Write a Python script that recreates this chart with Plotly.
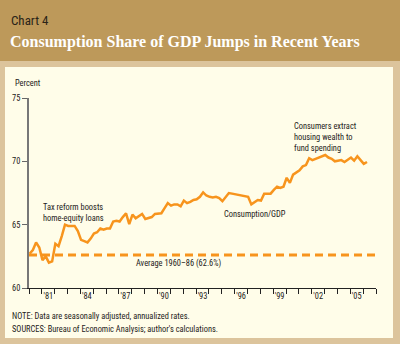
import plotly.graph_objects as go

# Quarterly consumption share of GDP, percent (1980Q1 - 2006Q2)
years = list(range(1980, 2007))
share = [
    62.7, 63.0, 63.6, 63.2,      # 1980
    62.2, 62.5, 62.0, 62.1,      # 1981
    63.5, 63.3, 64.1, 65.0,      # 1982
    64.9, 64.9, 64.9, 64.5,      # 1983
    63.8, 63.7, 63.6, 63.9,      # 1984
    64.3, 64.4, 64.7, 64.6,      # 1985
    64.7, 64.7, 65.25, 65.3,     # 1986
    65.25, 65.6, 65.9, 65.05,    # 1987
    65.8, 65.5, 65.7, 65.85,     # 1988
    65.45, 65.5, 65.6, 65.85,    # 1989
    65.85, 65.9, 66.3, 66.7,     # 1990
    66.5, 66.6, 66.6, 66.45,     # 1991
    66.9, 66.7, 66.8, 66.95,     # 1992
    67.0, 67.2, 67.55, 67.3,     # 1993
    67.2, 67.15, 67.2, 67.1,     # 1994
    66.85, 67.2, 67.5, 67.45,    # 1995
    67.4, 67.35, 67.3, 67.25,    # 1996
    67.2, 66.6, 66.8, 66.95,     # 1997
    66.9, 67.45, 67.45, 67.45,   # 1998
    67.75, 68.0, 67.9, 68.0,     # 1999
    68.7, 68.3, 68.95, 69.1,     # 2000
    69.3, 69.6, 69.7, 70.25,     # 2001
    70.1, 70.2, 70.3, 70.4,      # 2002
    70.5, 70.3, 70.2, 70.0,      # 2003
    70.05, 70.1, 69.95, 70.1,    # 2004
    70.3, 70.05, 70.4, 70.1,     # 2005
    69.8, 69.95,                 # 2006
]
quarter_x = [1980 + 0.05 + i / 4 for i in range(len(share))]

average_1960_86 = 62.6

tick_years = [1981, 1984, 1987, 1990, 1993, 1996, 1999, 2002, 2005]
tick_labels = ["'81", "'84", "'87", "'90", "'93", "'96", "'99", "'02", "'05"]
y_ticks = [60, 65, 70, 75]

ORANGE = "#F7941D"
HEADER = "#BD995A"
BORDER = "#DCC49C"
CREAM = "#FFFDE9"
TEXT = "#1E1B1A"
FONT = "Liberation Sans Narrow, Arial Narrow, Roboto Condensed, Liberation Sans, sans-serif"
FS = 8.4

W, H = 400, 344
ML, MR, MT, MB = 29, 24, 98, 56
PW, PH = W - ML - MR, H - MT - MB

fig = go.Figure()

fig.add_trace(go.Scatter(
    x=[years[0], years[-1] + 1], y=[average_1960_86, average_1960_86],
    mode="lines", line=dict(color=ORANGE, width=3, dash="8px,5px"),
    hoverinfo="skip", showlegend=False,
))
fig.add_trace(go.Scatter(
    x=quarter_x, y=share, mode="lines",
    line=dict(color=ORANGE, width=2.5), showlegend=False,
))

# helpers: figure pixels -> paper coordinates (paper spans the plot area)
def px_x(p):
    return (p - ML) / PW

def px_y(p):
    return (H - MB - p) / PH

shapes = [
    # tan page behind everything
    dict(type="rect", xref="paper", yref="paper", x0=px_x(0), x1=px_x(W),
         y0=px_y(H), y1=px_y(0), fillcolor=BORDER, line_width=0, layer="below"),
    # header band
    dict(type="rect", xref="paper", yref="paper", x0=px_x(0), x1=px_x(W),
         y0=px_y(61), y1=px_y(0), fillcolor=HEADER, line_width=0, layer="below"),
    # cream inner panel
    dict(type="rect", xref="paper", yref="paper", x0=px_x(5), x1=px_x(393),
         y0=px_y(338), y1=px_y(67), fillcolor=CREAM, line_width=0, layer="below"),
]

fig.update_layout(
    width=W, height=H,
    margin=dict(l=ML, r=MR, t=MT, b=MB, autoexpand=False),
    paper_bgcolor=BORDER, plot_bgcolor="rgba(0,0,0,0)",
    shapes=shapes,
    font=dict(family=FONT, size=FS, color=TEXT),
    xaxis=dict(
        range=[1980, 2007], showgrid=False, zeroline=False,
        tickmode="array", tickvals=[y + 0.5 for y in tick_years], ticktext=tick_labels,
        ticks="", ticklen=0, showline=True, linecolor="#222", linewidth=1,
        minor=dict(tickmode="linear", tick0=1980, dtick=1, ticks="outside",
                   ticklen=5, tickcolor="#222", tickwidth=1),
        tickfont=dict(size=FS, family=FONT, color=TEXT),
    ),
    yaxis=dict(
        range=[60, 75], showgrid=False, zeroline=False,
        tickmode="array", tickvals=y_ticks,
        ticks="outside", ticklen=5, tickcolor="#666", tickwidth=1,
        showline=True, linecolor="#777", linewidth=2,
        tickfont=dict(size=FS, family=FONT, color=TEXT),
    ),
)

def note(text, x, y, anchor="left", size=FS, color=TEXT, family=FONT):
    fig.add_annotation(
        text=text, xref="paper", yref="paper", x=px_x(x), y=px_y(y),
        xanchor=anchor, yanchor="middle", showarrow=False, align=anchor,
        font=dict(size=size, color=color, family=family),
    )

note("Chart 4", 9, 20, size=13, color="#2a2418")
note("<b>Consumption Share of GDP Jumps in Recent Years</b>", 8, 42, size=16,
     color="#FFFFFF", family="Liberation Serif, DejaVu Serif, serif")
note("Percent", 13, 83)
note("Tax reform boosts<br>home-equity loans", 41, 212)
note("Consumers extract<br>housing wealth to<br>fund spending", 292, 137)
note("Consumption/GDP", 222, 214)
note("Average 1960–86 (62.6%)", 134, 263)
note("NOTE: Data are seasonally adjusted, annualized rates.", 10, 316)
note("SOURCES: Bureau of Economic Analysis; author's calculations.", 10, 329)

fig.write_html("out.html")
